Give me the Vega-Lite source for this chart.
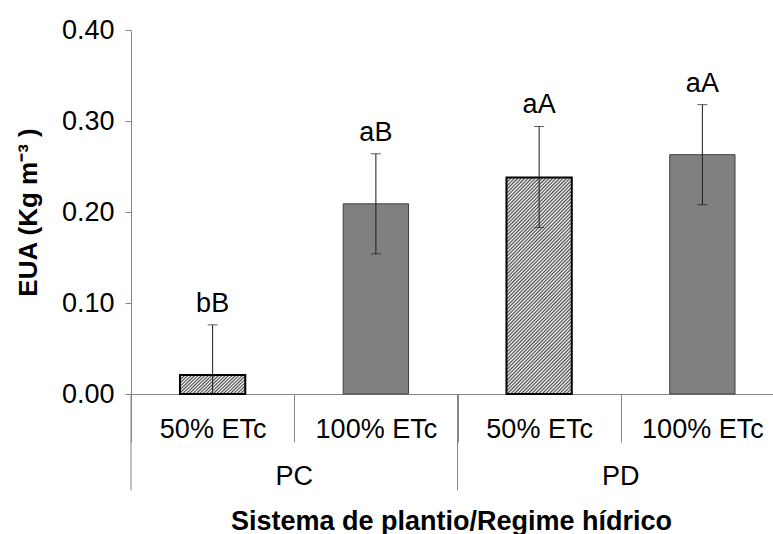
{
  "$schema": "https://vega.github.io/schema/vega-lite/v6.json",
  "width": 642,
  "height": 364,
  "autosize": {"type": "none"},
  "padding": {"left": 131, "top": 30, "right": 0, "bottom": 140},
  "background": "#ffffff",
  "config": {"view": {"stroke": null}, "font": "Liberation Sans"},
  "data": {
    "values": [
      {"trat": "PC 50% ETc", "sistema": "PC", "regime": "50% ETc", "eua": 0.021, "lo": -0.034, "hi": 0.076, "letra": "bB"},
      {"trat": "PC 100% ETc", "sistema": "PC", "regime": "100% ETc", "eua": 0.209, "lo": 0.154, "hi": 0.264, "letra": "aB"},
      {"trat": "PD 50% ETc", "sistema": "PD", "regime": "50% ETc", "eua": 0.238, "lo": 0.183, "hi": 0.294, "letra": "aA"},
      {"trat": "PD 100% ETc", "sistema": "PD", "regime": "100% ETc", "eua": 0.263, "lo": 0.208, "hi": 0.318, "letra": "aA"}
    ]
  },
  "layer": [
    {
      "mark": {"type": "bar", "fill": "#808080", "stroke": "#404040", "strokeWidth": 1, "width": {"band": 0.4}},
      "transform": [{"filter": "datum.regime == '100% ETc'"}],
      "encoding": {
        "x": {
          "field": "trat", "type": "nominal", "sort": null,
          "scale": {"domain": ["PC 50% ETc", "PC 100% ETc", "PD 50% ETc", "PD 100% ETc"], "range": [0, 653], "paddingInner": 0, "paddingOuter": 0},
          "axis": {
            "labelExpr": "slice(datum.label, 3)",
            "labelAngle": 0,
            "labelFontSize": 27,
            "labelColor": "#000000",
            "labelBaseline": "alphabetic",
            "labelPadding": -5,
            "tickBand": "extent",
            "tickSize": 48,
            "tickColor": "#868686",
            "domainColor": "#868686",
            "grid": false,
            "title": "Sistema de plantio/Regime hídrico",
            "titleFontSize": 27,
            "titleFontWeight": "bold",
            "titleColor": "#000000",
            "titleBaseline": "alphabetic",
            "titleX": 320,
            "titleY": 135
          }
        },
        "y": {
          "field": "eua", "type": "quantitative",
          "scale": {"domain": [0, 0.4], "nice": false, "zero": true},
          "axis": {
            "values": [0, 0.1, 0.2, 0.3, 0.4],
            "format": ".2f",
            "grid": false,
            "labelFontSize": 27,
            "labelColor": "#000000",
            "labelPadding": 11,
            "tickSize": 6,
            "tickColor": "#868686",
            "domainColor": "#868686",
            "title": "EUA (Kg m⁻³ )",
            "titleFontSize": 26,
            "titleFontWeight": "bold",
            "titleColor": "#000000",
            "titlePadding": 20
          }
        }
      }
    },
    {
      "mark": {
        "type": "bar", "stroke": "#000000", "strokeWidth": 2, "width": {"band": 0.4},
        "fill": {"gradient": "linear", "x1": 0, "y1": 0, "x2": 1.193, "y2": 0.362, "stops": [
          {"offset": 0, "color": "#ffffff"}, {"offset": 0.02, "color": "#4a4a4a"}, {"offset": 0.04, "color": "#ffffff"}, {"offset": 0.06, "color": "#4a4a4a"}, {"offset": 0.08, "color": "#ffffff"}, {"offset": 0.1, "color": "#4a4a4a"}, {"offset": 0.12, "color": "#ffffff"}, {"offset": 0.14, "color": "#4a4a4a"}, {"offset": 0.16, "color": "#ffffff"}, {"offset": 0.18, "color": "#4a4a4a"}, {"offset": 0.2, "color": "#ffffff"}, {"offset": 0.22, "color": "#4a4a4a"}, {"offset": 0.24, "color": "#ffffff"}, {"offset": 0.26, "color": "#4a4a4a"}, {"offset": 0.28, "color": "#ffffff"}, {"offset": 0.3, "color": "#4a4a4a"}, {"offset": 0.32, "color": "#ffffff"}, {"offset": 0.34, "color": "#4a4a4a"}, {"offset": 0.36, "color": "#ffffff"}, {"offset": 0.38, "color": "#4a4a4a"}, {"offset": 0.4, "color": "#ffffff"}, {"offset": 0.42, "color": "#4a4a4a"}, {"offset": 0.44, "color": "#ffffff"}, {"offset": 0.46, "color": "#4a4a4a"}, {"offset": 0.48, "color": "#ffffff"}, {"offset": 0.5, "color": "#4a4a4a"}, {"offset": 0.52, "color": "#ffffff"}, {"offset": 0.54, "color": "#4a4a4a"}, {"offset": 0.56, "color": "#ffffff"}, {"offset": 0.58, "color": "#4a4a4a"}, {"offset": 0.6, "color": "#ffffff"}, {"offset": 0.62, "color": "#4a4a4a"}, {"offset": 0.64, "color": "#ffffff"}, {"offset": 0.66, "color": "#4a4a4a"}, {"offset": 0.68, "color": "#ffffff"}, {"offset": 0.7, "color": "#4a4a4a"}, {"offset": 0.72, "color": "#ffffff"}, {"offset": 0.74, "color": "#4a4a4a"}, {"offset": 0.76, "color": "#ffffff"}, {"offset": 0.78, "color": "#4a4a4a"}, {"offset": 0.8, "color": "#ffffff"}, {"offset": 0.82, "color": "#4a4a4a"}, {"offset": 0.84, "color": "#ffffff"}, {"offset": 0.86, "color": "#4a4a4a"}, {"offset": 0.88, "color": "#ffffff"}, {"offset": 0.9, "color": "#4a4a4a"}, {"offset": 0.92, "color": "#ffffff"}, {"offset": 0.94, "color": "#4a4a4a"}, {"offset": 0.96, "color": "#ffffff"}, {"offset": 0.98, "color": "#4a4a4a"}, {"offset": 1, "color": "#ffffff"}
        ]}
      },
      "transform": [{"filter": "datum.trat == 'PC 50% ETc'"}],
      "encoding": {
        "x": {"field": "trat", "type": "nominal", "sort": null},
        "y": {"field": "eua", "type": "quantitative"}
      }
    },
    {
      "mark": {
        "type": "bar", "stroke": "#000000", "strokeWidth": 2, "width": {"band": 0.4},
        "fill": {"gradient": "linear", "x1": 0, "y1": 0, "x2": 0.365, "y2": 1.193, "stops": [
          {"offset": 0, "color": "#ffffff"}, {"offset": 0.00625, "color": "#4a4a4a"}, {"offset": 0.0125, "color": "#ffffff"}, {"offset": 0.01875, "color": "#4a4a4a"}, {"offset": 0.025, "color": "#ffffff"}, {"offset": 0.03125, "color": "#4a4a4a"}, {"offset": 0.0375, "color": "#ffffff"}, {"offset": 0.04375, "color": "#4a4a4a"}, {"offset": 0.05, "color": "#ffffff"}, {"offset": 0.05625, "color": "#4a4a4a"}, {"offset": 0.0625, "color": "#ffffff"}, {"offset": 0.06875, "color": "#4a4a4a"}, {"offset": 0.075, "color": "#ffffff"}, {"offset": 0.08125, "color": "#4a4a4a"}, {"offset": 0.0875, "color": "#ffffff"}, {"offset": 0.09375, "color": "#4a4a4a"},
          {"offset": 0.1, "color": "#ffffff"}, {"offset": 0.10625, "color": "#4a4a4a"}, {"offset": 0.1125, "color": "#ffffff"}, {"offset": 0.11875, "color": "#4a4a4a"}, {"offset": 0.125, "color": "#ffffff"}, {"offset": 0.13125, "color": "#4a4a4a"}, {"offset": 0.1375, "color": "#ffffff"}, {"offset": 0.14375, "color": "#4a4a4a"}, {"offset": 0.15, "color": "#ffffff"}, {"offset": 0.15625, "color": "#4a4a4a"}, {"offset": 0.1625, "color": "#ffffff"}, {"offset": 0.16875, "color": "#4a4a4a"}, {"offset": 0.175, "color": "#ffffff"}, {"offset": 0.18125, "color": "#4a4a4a"}, {"offset": 0.1875, "color": "#ffffff"}, {"offset": 0.19375, "color": "#4a4a4a"},
          {"offset": 0.2, "color": "#ffffff"}, {"offset": 0.20625, "color": "#4a4a4a"}, {"offset": 0.2125, "color": "#ffffff"}, {"offset": 0.21875, "color": "#4a4a4a"}, {"offset": 0.225, "color": "#ffffff"}, {"offset": 0.23125, "color": "#4a4a4a"}, {"offset": 0.2375, "color": "#ffffff"}, {"offset": 0.24375, "color": "#4a4a4a"}, {"offset": 0.25, "color": "#ffffff"}, {"offset": 0.25625, "color": "#4a4a4a"}, {"offset": 0.2625, "color": "#ffffff"}, {"offset": 0.26875, "color": "#4a4a4a"}, {"offset": 0.275, "color": "#ffffff"}, {"offset": 0.28125, "color": "#4a4a4a"}, {"offset": 0.2875, "color": "#ffffff"}, {"offset": 0.29375, "color": "#4a4a4a"},
          {"offset": 0.3, "color": "#ffffff"}, {"offset": 0.30625, "color": "#4a4a4a"}, {"offset": 0.3125, "color": "#ffffff"}, {"offset": 0.31875, "color": "#4a4a4a"}, {"offset": 0.325, "color": "#ffffff"}, {"offset": 0.33125, "color": "#4a4a4a"}, {"offset": 0.3375, "color": "#ffffff"}, {"offset": 0.34375, "color": "#4a4a4a"}, {"offset": 0.35, "color": "#ffffff"}, {"offset": 0.35625, "color": "#4a4a4a"}, {"offset": 0.3625, "color": "#ffffff"}, {"offset": 0.36875, "color": "#4a4a4a"}, {"offset": 0.375, "color": "#ffffff"}, {"offset": 0.38125, "color": "#4a4a4a"}, {"offset": 0.3875, "color": "#ffffff"}, {"offset": 0.39375, "color": "#4a4a4a"},
          {"offset": 0.4, "color": "#ffffff"}, {"offset": 0.40625, "color": "#4a4a4a"}, {"offset": 0.4125, "color": "#ffffff"}, {"offset": 0.41875, "color": "#4a4a4a"}, {"offset": 0.425, "color": "#ffffff"}, {"offset": 0.43125, "color": "#4a4a4a"}, {"offset": 0.4375, "color": "#ffffff"}, {"offset": 0.44375, "color": "#4a4a4a"}, {"offset": 0.45, "color": "#ffffff"}, {"offset": 0.45625, "color": "#4a4a4a"}, {"offset": 0.4625, "color": "#ffffff"}, {"offset": 0.46875, "color": "#4a4a4a"}, {"offset": 0.475, "color": "#ffffff"}, {"offset": 0.48125, "color": "#4a4a4a"}, {"offset": 0.4875, "color": "#ffffff"}, {"offset": 0.49375, "color": "#4a4a4a"},
          {"offset": 0.5, "color": "#ffffff"}, {"offset": 0.50625, "color": "#4a4a4a"}, {"offset": 0.5125, "color": "#ffffff"}, {"offset": 0.51875, "color": "#4a4a4a"}, {"offset": 0.525, "color": "#ffffff"}, {"offset": 0.53125, "color": "#4a4a4a"}, {"offset": 0.5375, "color": "#ffffff"}, {"offset": 0.54375, "color": "#4a4a4a"}, {"offset": 0.55, "color": "#ffffff"}, {"offset": 0.55625, "color": "#4a4a4a"}, {"offset": 0.5625, "color": "#ffffff"}, {"offset": 0.56875, "color": "#4a4a4a"}, {"offset": 0.575, "color": "#ffffff"}, {"offset": 0.58125, "color": "#4a4a4a"}, {"offset": 0.5875, "color": "#ffffff"}, {"offset": 0.59375, "color": "#4a4a4a"},
          {"offset": 0.6, "color": "#ffffff"}, {"offset": 0.60625, "color": "#4a4a4a"}, {"offset": 0.6125, "color": "#ffffff"}, {"offset": 0.61875, "color": "#4a4a4a"}, {"offset": 0.625, "color": "#ffffff"}, {"offset": 0.63125, "color": "#4a4a4a"}, {"offset": 0.6375, "color": "#ffffff"}, {"offset": 0.64375, "color": "#4a4a4a"}, {"offset": 0.65, "color": "#ffffff"}, {"offset": 0.65625, "color": "#4a4a4a"}, {"offset": 0.6625, "color": "#ffffff"}, {"offset": 0.66875, "color": "#4a4a4a"}, {"offset": 0.675, "color": "#ffffff"}, {"offset": 0.68125, "color": "#4a4a4a"}, {"offset": 0.6875, "color": "#ffffff"}, {"offset": 0.69375, "color": "#4a4a4a"},
          {"offset": 0.7, "color": "#ffffff"}, {"offset": 0.70625, "color": "#4a4a4a"}, {"offset": 0.7125, "color": "#ffffff"}, {"offset": 0.71875, "color": "#4a4a4a"}, {"offset": 0.725, "color": "#ffffff"}, {"offset": 0.73125, "color": "#4a4a4a"}, {"offset": 0.7375, "color": "#ffffff"}, {"offset": 0.74375, "color": "#4a4a4a"}, {"offset": 0.75, "color": "#ffffff"}, {"offset": 0.75625, "color": "#4a4a4a"}, {"offset": 0.7625, "color": "#ffffff"}, {"offset": 0.76875, "color": "#4a4a4a"}, {"offset": 0.775, "color": "#ffffff"}, {"offset": 0.78125, "color": "#4a4a4a"}, {"offset": 0.7875, "color": "#ffffff"}, {"offset": 0.79375, "color": "#4a4a4a"},
          {"offset": 0.8, "color": "#ffffff"}, {"offset": 0.80625, "color": "#4a4a4a"}, {"offset": 0.8125, "color": "#ffffff"}, {"offset": 0.81875, "color": "#4a4a4a"}, {"offset": 0.825, "color": "#ffffff"}, {"offset": 0.83125, "color": "#4a4a4a"}, {"offset": 0.8375, "color": "#ffffff"}, {"offset": 0.84375, "color": "#4a4a4a"}, {"offset": 0.85, "color": "#ffffff"}, {"offset": 0.85625, "color": "#4a4a4a"}, {"offset": 0.8625, "color": "#ffffff"}, {"offset": 0.86875, "color": "#4a4a4a"}, {"offset": 0.875, "color": "#ffffff"}, {"offset": 0.88125, "color": "#4a4a4a"}, {"offset": 0.8875, "color": "#ffffff"}, {"offset": 0.89375, "color": "#4a4a4a"},
          {"offset": 0.9, "color": "#ffffff"}, {"offset": 0.90625, "color": "#4a4a4a"}, {"offset": 0.9125, "color": "#ffffff"}, {"offset": 0.91875, "color": "#4a4a4a"}, {"offset": 0.925, "color": "#ffffff"}, {"offset": 0.93125, "color": "#4a4a4a"}, {"offset": 0.9375, "color": "#ffffff"}, {"offset": 0.94375, "color": "#4a4a4a"}, {"offset": 0.95, "color": "#ffffff"}, {"offset": 0.95625, "color": "#4a4a4a"}, {"offset": 0.9625, "color": "#ffffff"}, {"offset": 0.96875, "color": "#4a4a4a"}, {"offset": 0.975, "color": "#ffffff"}, {"offset": 0.98125, "color": "#4a4a4a"}, {"offset": 0.9875, "color": "#ffffff"}, {"offset": 0.99375, "color": "#4a4a4a"},
          {"offset": 1, "color": "#ffffff"}
        ]}
      },
      "transform": [{"filter": "datum.trat == 'PD 50% ETc'"}],
      "encoding": {
        "x": {"field": "trat", "type": "nominal", "sort": null},
        "y": {"field": "eua", "type": "quantitative"}
      }
    },
    {
      "mark": {"type": "rule", "color": "#1a1a1a", "strokeWidth": 1, "clip": true},
      "encoding": {
        "x": {"field": "trat", "type": "nominal", "sort": null},
        "y": {"field": "lo", "type": "quantitative"},
        "y2": {"field": "hi"}
      }
    },
    {
      "mark": {"type": "tick", "color": "#1a1a1a", "size": 10, "thickness": 1, "clip": true},
      "encoding": {
        "x": {"field": "trat", "type": "nominal", "sort": null},
        "y": {"field": "hi", "type": "quantitative"}
      }
    },
    {
      "mark": {"type": "tick", "color": "#1a1a1a", "size": 10, "thickness": 1, "clip": true},
      "encoding": {
        "x": {"field": "trat", "type": "nominal", "sort": null},
        "y": {"field": "lo", "type": "quantitative"}
      }
    },
    {
      "mark": {"type": "text", "fontSize": 27, "color": "#000000", "baseline": "alphabetic", "align": "center", "dy": -13},
      "encoding": {
        "x": {"field": "trat", "type": "nominal", "sort": null},
        "y": {"field": "hi", "type": "quantitative"},
        "text": {"field": "letra"}
      }
    },
    {
      "mark": {"type": "rule", "color": "#868686", "strokeWidth": 1},
      "transform": [{"filter": "datum.regime == '50% ETc'"}],
      "encoding": {
        "x": {"field": "trat", "type": "nominal", "sort": null, "bandPosition": 0},
        "y": {"datum": 0},
        "y2": {"datum": -0.106}
      }
    },
    {
      "mark": {"type": "text", "fontSize": 27, "color": "#000000", "baseline": "alphabetic", "align": "center"},
      "transform": [{"filter": "datum.regime == '100% ETc'"}],
      "encoding": {
        "x": {"field": "trat", "type": "nominal", "sort": null, "bandPosition": 0},
        "y": {"datum": -0.1},
        "text": {"field": "sistema"}
      }
    }
  ]
}
